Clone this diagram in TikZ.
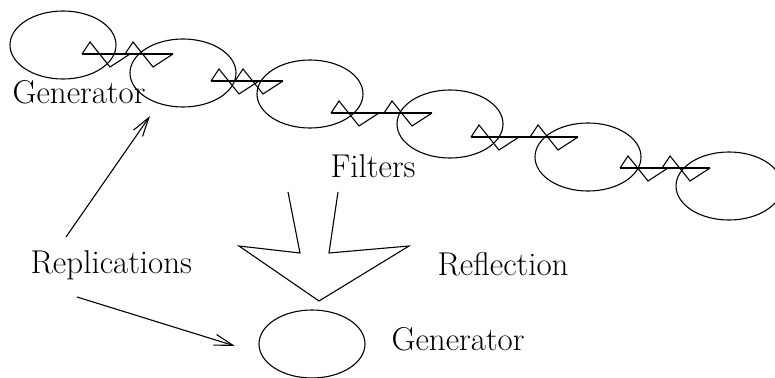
\documentclass[tikz,border=0pt]{standalone}
\usepackage{tikz}
\usetikzlibrary{
  arrows.meta,
  shapes.geometric
}

% one filter: two saw teeth on a line (first tooth x, second tooth x, line y)
\newcommand{\filt}[3]{%
  \draw (#1,#3) -- (#2+48,#3);
  \draw (#1,#3) -- ++(8,-12) -- ++(20,25) -- ++(20,-13);
  \draw (#2,#3) -- ++(8,-12) -- ++(20,25) -- ++(20,-13);
}

\begin{document}
\begin{tikzpicture}[x=1pt, y=-1pt, line width=1.1pt, line join=miter,
  gen/.style={ellipse, draw, minimum width=106pt, minimum height=68pt, inner sep=0pt},
  lbl/.style={inner sep=0pt, anchor=base west, font=\fontsize{33}{40}\selectfont},
  rep/.style={-{Straight Barb[length=19pt, width=11pt]}}
]
  \useasboundingbox (0,0) rectangle (775,377);

  % generator and its replications
  \node[gen] (g1) at (63,45) {};
  \node[gen] (g2) at (183,73) {};
  \node[gen] (g3) at (310,94) {};
  \node[gen] (g4) at (450,124) {};
  \node[gen] (g5) at (588,157) {};
  \node[gen] (g6) at (729,186) {};
  \node[gen] (g0) at (312,344) {};

  % filters between them
  \filt{82}{125}{54}
  \filt{211}{235}{81}
  \filt{331}{384}{113}
  \filt{471}{530}{137}
  \filt{620}{662}{168}

  \node[lbl] (gtop) at (12,103) {Generator};
  \node[lbl] (filters) at (330,177) {Filters};
  \node[lbl] (repl) at (30,273) {Replications};
  \node[lbl] (refl) at (437,275) {Reflection};
  \node[lbl] (gbot) at (391,350) {Generator};

  % big reflection arrow
  \draw (288,192) -- (300,253) -- (239,246) -- (319,301) -- (409,246) -- (329,253) -- (338,192);

  \coordinate (replA) at (66,237);
  \coordinate (replB) at (77,297);
  \coordinate (g2in) at (150,116);
  \coordinate (g0in) at (235,346);
  \draw[rep] (replA) -- (g2in);
  \draw[rep] (replB) -- (g0in);
\end{tikzpicture}
\end{document}
